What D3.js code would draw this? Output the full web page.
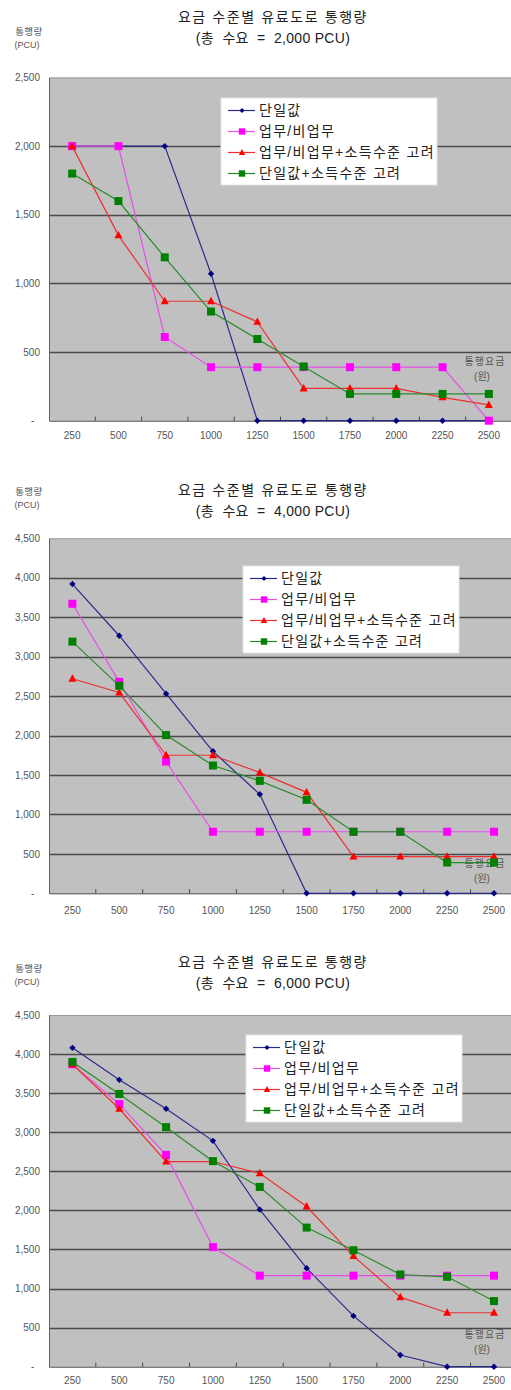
<!DOCTYPE html>
<html>
<head>
<meta charset="utf-8">
<script src="https://cdn.jsdelivr.net/npm/d3@7"></script>
<style>
  body { margin: 0; background: #fff; }
  svg { display: block; }
  text { font-family: "Liberation Sans", "Noto Sans CJK KR", sans-serif; white-space: pre; }
</style>
</head>
<body>
<div id="graph"></div>
<script>
// categories: toll fare (원)
const fares = [250, 500, 750, 1000, 1250, 1500, 1750, 2000, 2250, 2500];
const seriesNames = ["단일값", "업무/비업무", "업무/비업무+소득수준 고려", "단일값+소득수준 고려"];

// 총 수요 = 2,000 PCU
const single_2000       = [2000, 2000, 2000, 1070, 0, 0, 0, 0, 0, 0];
const biz_2000          = [2000, 2000, 610, 390, 390, 390, 390, 390, 390, 0];
const bizIncome_2000    = [2000, 1350, 870, 870, 720, 235, 235, 235, 170, 115];
const singleIncome_2000 = [1800, 1600, 1190, 795, 595, 395, 195, 195, 195, 195];

// 총 수요 = 4,000 PCU
const single_4000       = [3920, 3265, 2530, 1800, 1255, 0, 0, 0, 0, 0];
const biz_4000          = [3670, 2680, 1670, 780, 780, 780, 780, 780, 780, 780];
const bizIncome_4000    = [2720, 2545, 1750, 1750, 1530, 1280, 465, 465, 465, 465];
const singleIncome_4000 = [3190, 2630, 2005, 1620, 1425, 1185, 780, 780, 390, 390];

// 총 수요 = 6,000 PCU
const single_6000       = [4080, 3670, 3300, 2890, 2010, 1260, 650, 150, 0, 0];
const biz_6000          = [3870, 3360, 2710, 1530, 1165, 1165, 1165, 1165, 1165, 1165];
const bizIncome_6000    = [3870, 3300, 2625, 2625, 2475, 2050, 1415, 890, 690, 690];
const singleIncome_6000 = [3900, 3490, 3065, 2630, 2300, 1780, 1490, 1180, 1150, 840];

// y tick values
const yTicks_2500 = [0, 500, 1000, 1500, 2000, 2500];
const yTicks_4500 = [0, 500, 1000, 1500, 2000, 2500, 3000, 3500, 4000, 4500];

const titleText = "요금 수준별 유료도로 통행량";
const subTitles = ["(총  수요  =  2,000 PCU)", "(총  수요  =  4,000 PCU)", "(총  수요  =  6,000 PCU)"];

// series styles, same order as seriesNames
const styles = [
  { color: "#000080", line: "#2b2b8c", marker: "diamond" },
  { color: "#ff00ff", line: "#e64ee6", marker: "square" },
  { color: "#ff0000", line: "#ee3030", marker: "triangle" },
  { color: "#008000", line: "#2a8a2a", marker: "square" }
];

function markerPath(kind, s) {
  // s = half size
  if (kind === "diamond") return `M0,${-s}L${s},0L0,${s}L${-s},0Z`;
  if (kind === "triangle") return `M0,${-s * 1.1}L${s},${s * 0.75}L${-s},${s * 0.75}Z`;
  return `M${-s},${-s}H${s}V${s}H${-s}Z`;
}
function markerSize(kind) {
  if (kind === "diamond") return 3.2;
  return 4;
}

var svg = d3.select("#graph")
            .append("svg")
              .attr("width", 511)
              .attr("height", 1390);

function drawChart(cfg) {
  var g = svg.append("g");

  var x = d3.scaleBand()
            .domain(fares)
            .range([cfg.left, cfg.right]);
  var y = d3.scaleLinear()
            .domain([0, cfg.yMax])
            .range([cfg.bottom, cfg.top]);
  var cx = d => x(d) + x.bandwidth() / 2;

  // titles
  g.append("text")
    .attr("x", 273).attr("y", cfg.titleY).attr("dy", "0.35em")
    .attr("text-anchor", "middle").attr("font-size", 14).attr("fill", "#222")
    .attr("letter-spacing", 1.6)
    .text(titleText);
  g.append("text")
    .attr("x", 273).attr("y", cfg.titleY + 21).attr("dy", "0.35em")
    .attr("text-anchor", "middle").attr("font-size", 14).attr("fill", "#222")
    .attr("letter-spacing", 0.3)
    .text(cfg.subtitle);

  // y axis title
  g.append("text")
    .attr("x", 29).attr("y", cfg.yTitleY).attr("dy", "0.35em")
    .attr("text-anchor", "middle").attr("font-size", 9.5).attr("fill", "#555")
    .attr("letter-spacing", 0.5)
    .text("통행량");
  g.append("text")
    .attr("x", 27).attr("y", cfg.yTitleY + 13).attr("dy", "0.35em")
    .attr("text-anchor", "middle").attr("font-size", 9).attr("fill", "#555")
    .text("(PCU)");

  // plot area
  g.append("rect")
    .attr("x", cfg.left).attr("y", cfg.top)
    .attr("width", cfg.right - cfg.left).attr("height", cfg.bottom - cfg.top)
    .attr("fill", "#c0c0c0");
  g.append("line")
    .attr("x1", cfg.left).attr("x2", cfg.right)
    .attr("y1", cfg.top + 0.5).attr("y2", cfg.top + 0.5)
    .attr("stroke", "#9a9a9a");

  // gridlines
  g.selectAll(".grid")
    .data(cfg.yTicks.filter(v => v > 0 && v < cfg.yMax))
    .enter()
    .append("line")
      .attr("x1", cfg.left).attr("x2", cfg.right)
      .attr("y1", d => Math.round(y(d)) + 0.5).attr("y2", d => Math.round(y(d)) + 0.5)
      .attr("stroke", "#4a4a4a").attr("stroke-width", 1.3);

  // y axis labels
  var y_axis = d3.axisLeft()
                 .scale(y)
                 .tickValues(cfg.yTicks)
                 .tickSize(0)
                 .tickPadding(9)
                 .tickFormat(d => d === 0 ? "-  " : d3.format(",")(d));
  var yAxisG = g.append("g")
                .attr("transform", "translate(" + cfg.left + ",0)")
                .call(y_axis);
  yAxisG.select(".domain").attr("stroke", "#606060");
  yAxisG.selectAll("text")
        .attr("font-size", 10).attr("fill", "#555")
        .attr("font-family", "Liberation Sans, sans-serif");

  // x axis
  var x_axis = d3.axisBottom()
                 .scale(x)
                 .tickSize(0)
                 .tickPadding(cfg.xLabelPad);
  var xAxisG = g.append("g")
                .attr("transform", "translate(0," + cfg.bottom + ")")
                .call(x_axis);
  xAxisG.select(".domain").attr("stroke", "#444");
  xAxisG.selectAll("text")
        .attr("font-size", 10).attr("fill", "#555")
        .attr("font-family", "Liberation Sans, sans-serif");

  // inner ticks at category boundaries
  g.selectAll(".xtick")
    .data(fares.slice(1))
    .enter()
    .append("line")
      .attr("x1", d => x(d)).attr("x2", d => x(d))
      .attr("y1", cfg.bottom).attr("y2", cfg.bottom - 4)
      .attr("stroke", "#444");

  // x axis title inside plot
  g.append("text")
    .attr("x", 485).attr("y", cfg.xTitleY).attr("dy", "0.35em")
    .attr("text-anchor", "middle").attr("font-size", 10).attr("fill", "#555")
    .attr("letter-spacing", 1)
    .text("통행요금");
  g.append("text")
    .attr("x", 482).attr("y", cfg.xTitleY + 15).attr("dy", "0.35em")
    .attr("text-anchor", "middle").attr("font-size", 10).attr("fill", "#555")
    .text("(원)");

  // series
  var line = d3.line()
               .x((d, i) => cx(fares[i]))
               .y(d => y(d));
  cfg.series.forEach(function (vals, k) {
    var st = styles[k];
    g.append("path")
      .datum(vals)
      .attr("d", line)
      .attr("fill", "none")
      .attr("stroke", st.line)
      .attr("stroke-width", 1.2);
    g.selectAll(".m" + k)
      .data(vals)
      .enter()
      .append("path")
        .attr("transform", (d, i) => "translate(" + cx(fares[i]) + "," + y(d) + ")")
        .attr("d", markerPath(st.marker, markerSize(st.marker)))
        .attr("fill", st.color);
  });

  // legend
  var lg = g.append("g");
  lg.append("rect")
    .attr("x", cfg.legend[0]).attr("y", cfg.legend[1])
    .attr("width", 216).attr("height", 87)
    .attr("fill", "#fff").attr("stroke", "#e4e4e4");
  seriesNames.forEach(function (name, k) {
    var st = styles[k];
    var ly = cfg.legend[1] + 12.5 + k * 21;
    var lx = cfg.legend[0] + 7;
    lg.append("line")
      .attr("x1", lx).attr("x2", lx + 27)
      .attr("y1", ly).attr("y2", ly)
      .attr("stroke", st.line).attr("stroke-width", 1.2);
    lg.append("path")
      .attr("transform", "translate(" + (lx + 14) + "," + ly + ")")
      .attr("d", markerPath(st.marker, markerSize(st.marker) * 0.8))
      .attr("fill", st.color);
    lg.append("text")
      .attr("x", lx + 31).attr("y", ly).attr("dy", "0.35em")
      .attr("font-size", 14).attr("fill", "#222")
      .attr("font-family", "Noto Sans CJK KR, sans-serif")
      .attr("letter-spacing", 1.3)
      .text(name);
  });
}

drawChart({
  subtitle: subTitles[0], titleY: 17, yTitleY: 32,
  left: 49, right: 512, top: 77.5, bottom: 420.7, yMax: 2500, yTicks: yTicks_2500,
  xLabelPad: 11, xTitleY: 361, legend: [221, 98],
  series: [single_2000, biz_2000, bizIncome_2000, singleIncome_2000]
});
drawChart({
  subtitle: subTitles[1], titleY: 490, yTitleY: 492,
  left: 49, right: 517.4, top: 538.3, bottom: 893.3, yMax: 4500, yTicks: yTicks_4500,
  xLabelPad: 14, xTitleY: 863, legend: [243, 566],
  series: [single_4000, biz_4000, bizIncome_4000, singleIncome_4000]
});
drawChart({
  subtitle: subTitles[2], titleY: 962, yTitleY: 969,
  left: 49, right: 517.4, top: 1015, bottom: 1366.7, yMax: 4500, yTicks: yTicks_4500,
  xLabelPad: 10, xTitleY: 1334, legend: [246, 1035],
  series: [single_6000, biz_6000, bizIncome_6000, singleIncome_6000]
});
</script>
</body>
</html>
